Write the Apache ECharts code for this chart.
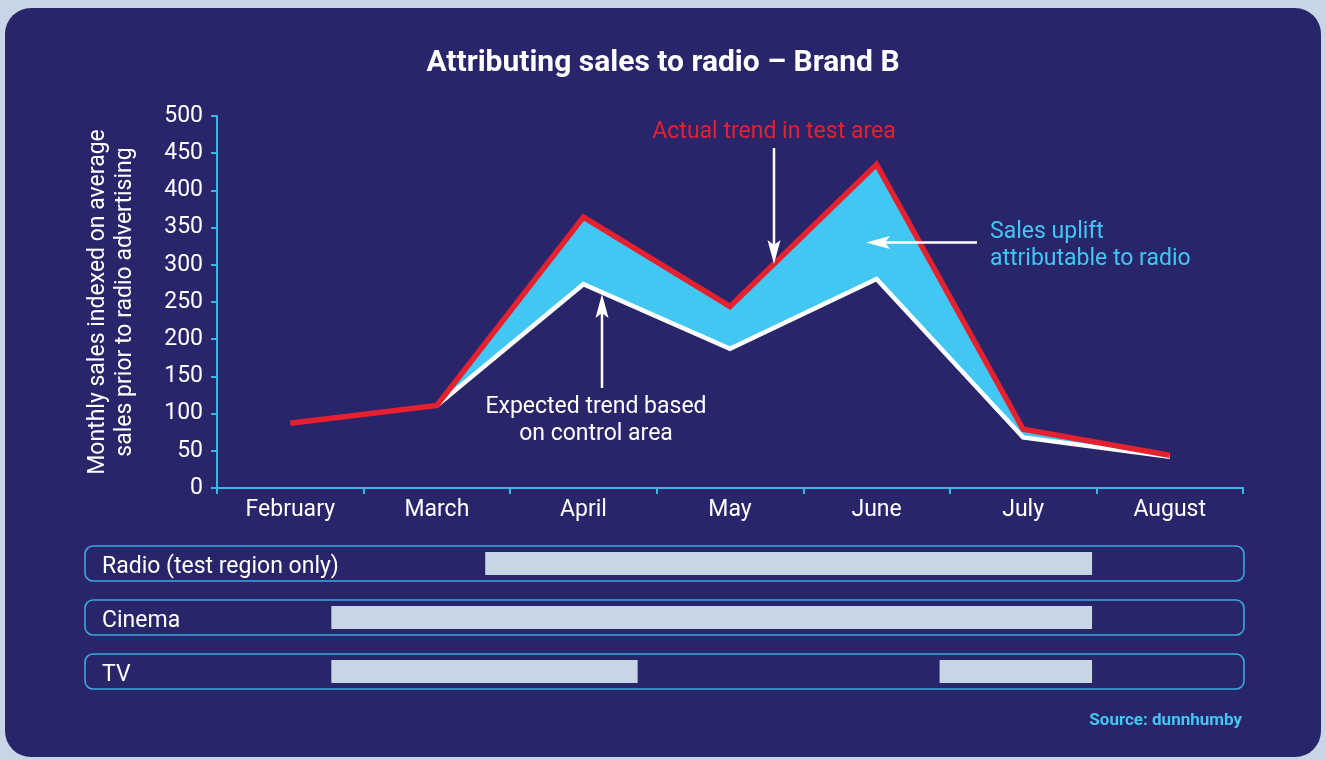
<!DOCTYPE html>
<html>
<head>
<meta charset="utf-8">
<script src="https://cdn.jsdelivr.net/npm/echarts@6/dist/echarts.min.js"></script>
<style>
  html, body { margin: 0; padding: 0; background: #c8d5e4; }
  #chart { width: 1326px; height: 759px; }
</style>
</head>
<body>
<div id="chart"></div>
<script>
// Monthly sales, indexed on average sales before the radio campaign
const months = ['February', 'March', 'April', 'May', 'June', 'July', 'August'];
const actualTrend = [87, 111, 364, 244, 435, 79, 44];        // test area
const expectedTrend = [null, 111, 274, 187, 281, 68, 42];    // modelled from control area
const yMin = 0, yMax = 500, yStep = 50;

// Media flights, in months from the start of February: [row, start, end]
const mediaRows = ['Radio (test region only)', 'Cinema', 'TV'];
const flights = [
  [0, 1.83, 5.97],
  [1, 0.78, 5.97],
  [2, 0.78, 2.87],
  [2, 4.93, 5.97]
];

const FONT = 'Roboto, "Liberation Sans", sans-serif';
const NAVY = '#29256a';
const RED = '#e5202f';
const SKY = '#42c6f2';
const AXIS = '#3bb5e6';
const WHITE = '#ffffff';

// gap between the expected and actual curves
const uplift = actualTrend.map((v, i) => expectedTrend[i] == null ? '-' : v - expectedTrend[i]);
const base = expectedTrend.map(v => v == null ? '-' : v);

const chart = echarts.init(document.getElementById('chart'), null, { renderer: 'canvas' });

function arrowHead(tip, dir, len, half, notch) {
  // dir: unit vector pointing from the shaft to the tip
  const [tx, ty] = tip, [dx, dy] = dir;
  const bx = tx - dx * len, by = ty - dy * len;
  const px = -dy, py = dx;
  return [
    [tx, ty],
    [bx + px * half, by + py * half],
    [tx - dx * (len - notch), ty - dy * (len - notch)],
    [bx - px * half, by - py * half]
  ];
}

const TOP = 100; // annotations sit above the plotted series

const option = {
  backgroundColor: 'transparent',
  animation: false,
  textStyle: { fontFamily: FONT },
  graphic: {
    elements: [
      { type: 'rect', z: -10, silent: true,
        shape: { x: 5, y: 8, width: 1316, height: 749, r: 26 },
        style: { fill: NAVY } },
      { type: 'text', x: 663, y: 63, z: TOP,
        style: { text: 'Attributing sales to radio \u2013 Brand B', fill: WHITE,
                 font: 'bold 30px ' + FONT, textAlign: 'center', textVerticalAlign: 'middle' } },
      // annotation: actual trend
      { type: 'text', x: 774, y: 132, z: TOP,
        style: { text: 'Actual trend in test area', fill: RED, font: '23px ' + FONT,
                 textAlign: 'center', textVerticalAlign: 'middle' } },
      { type: 'line', z: TOP, shape: { x1: 774, y1: 148, x2: 774, y2: 250 },
        style: { stroke: WHITE, lineWidth: 2.5 } },
      { type: 'polygon', z: TOP, shape: { points: arrowHead([774, 264], [0, 1], 24, 6.5, 5) },
        style: { fill: WHITE } },
      // annotation: uplift
      { type: 'text', x: 990, y: 245.5, z: TOP,
        style: { text: 'Sales uplift\nattributable to radio', fill: SKY, font: '23px ' + FONT,
                 lineHeight: 27, textAlign: 'left', textVerticalAlign: 'middle' } },
      { type: 'line', z: TOP, shape: { x1: 977, y1: 242.5, x2: 882, y2: 242.5 },
        style: { stroke: WHITE, lineWidth: 2.5 } },
      { type: 'polygon', z: TOP, shape: { points: arrowHead([866, 242.5], [-1, 0], 24, 6.5, 5) },
        style: { fill: WHITE } },
      // annotation: expected trend
      { type: 'text', x: 596, y: 421, z: TOP,
        style: { text: 'Expected trend based\non control area', fill: WHITE, font: '23px ' + FONT,
                 lineHeight: 27, textAlign: 'center', textVerticalAlign: 'middle' } },
      { type: 'line', z: TOP, shape: { x1: 602, y1: 388, x2: 602, y2: 308 },
        style: { stroke: WHITE, lineWidth: 2.5 } },
      { type: 'polygon', z: TOP, shape: { points: arrowHead([602, 294], [0, -1], 24, 6.5, 5) },
        style: { fill: WHITE } },
      { type: 'text', x: 1242, y: 721, z: TOP,
        style: { text: 'Source: dunnhumby', fill: SKY, font: 'bold 17px ' + FONT,
                 textAlign: 'right', textVerticalAlign: 'middle' } }
    ]
  },
  grid: [
    { left: 217, top: 116, width: 1026, height: 372 },
    { left: 217, top: 536.5, width: 1026, height: 162 }
  ],
  xAxis: [
    {
      gridIndex: 0, type: 'category', data: months, boundaryGap: true,
      axisLine: { lineStyle: { color: AXIS, width: 2 } },
      axisTick: { show: true, length: 6, lineStyle: { color: AXIS, width: 2 } },
      axisLabel: { color: WHITE, fontSize: 23, fontFamily: FONT, margin: 11 },
      splitLine: { show: false }
    },
    { gridIndex: 1, type: 'value', min: 0, max: 7, show: false }
  ],
  yAxis: [
    {
      gridIndex: 0, type: 'value', min: yMin, max: yMax, interval: yStep,
      name: 'Monthly sales indexed on average\nsales prior to radio advertising',
      nameLocation: 'middle', nameRotate: 90, nameGap: 78,
      nameTextStyle: { color: WHITE, fontSize: 23, fontFamily: FONT, lineHeight: 27 },
      axisLine: { show: true, lineStyle: { color: AXIS, width: 2 } },
      axisTick: { show: true, length: 6, lineStyle: { color: AXIS, width: 2 } },
      axisLabel: { color: WHITE, fontSize: 23, fontFamily: FONT, margin: 14 },
      splitLine: { show: false }
    },
    {
      gridIndex: 1, type: 'category', data: mediaRows, inverse: true,
      axisLine: { show: false }, axisTick: { show: false },
      axisLabel: {
        align: 'left', margin: 115,
        formatter: '{row|{value}}',
        rich: { row: { color: WHITE, fontSize: 23, fontFamily: FONT, padding: [8, 0, 0, 0] } }
      },
      splitLine: { show: false }
    }
  ],
  series: [
    {
      name: 'base', type: 'line', stack: 'trend', data: base,
      symbol: 'none', lineStyle: { width: 0, opacity: 0 }, silent: true, z: 1
    },
    {
      name: 'Sales uplift', type: 'line', stack: 'trend', data: uplift,
      symbol: 'none', lineStyle: { width: 0, opacity: 0 },
      areaStyle: { color: SKY, opacity: 1 }, silent: true, z: 1
    },
    {
      name: 'Expected trend', type: 'line', data: expectedTrend,
      symbol: 'none', lineStyle: { color: WHITE, width: 4.5, join: 'miter', cap: 'butt' }, z: 3
    },
    {
      name: 'Actual trend', type: 'line', data: actualTrend,
      symbol: 'none', lineStyle: { color: RED, width: 5.5, join: 'miter', cap: 'butt' }, z: 4
    },
    {
      // rounded frames around each media row
      type: 'custom', xAxisIndex: 1, yAxisIndex: 1, clip: false, silent: true,
      data: mediaRows.map((_, i) => [0, i]),
      encode: { x: 0, y: 1 },
      renderItem(params, api) {
        const cs = params.coordSys;
        const cy = api.coord([0, api.value(1)])[1];
        return {
          type: 'rect',
          shape: { x: cs.x - 132, y: cy - 17.5, width: cs.width + 133, height: 35, r: 8 },
          style: { fill: 'none', stroke: '#3aa9dc', lineWidth: 1.6 }
        };
      }
    },
    {
      // media flight bars
      type: 'custom', xAxisIndex: 1, yAxisIndex: 1, clip: false, silent: true,
      data: flights,
      encode: { x: [1, 2], y: 0 },
      renderItem(params, api) {
        const row = api.value(0);
        const p0 = api.coord([api.value(1), row]);
        const p1 = api.coord([api.value(2), row]);
        return {
          type: 'rect',
          shape: { x: p0[0], y: p0[1] - 11.5, width: p1[0] - p0[0], height: 23 },
          style: { fill: '#c8d5e5' }
        };
      }
    }
  ]
};

chart.setOption(option);
</script>
</body>
</html>
